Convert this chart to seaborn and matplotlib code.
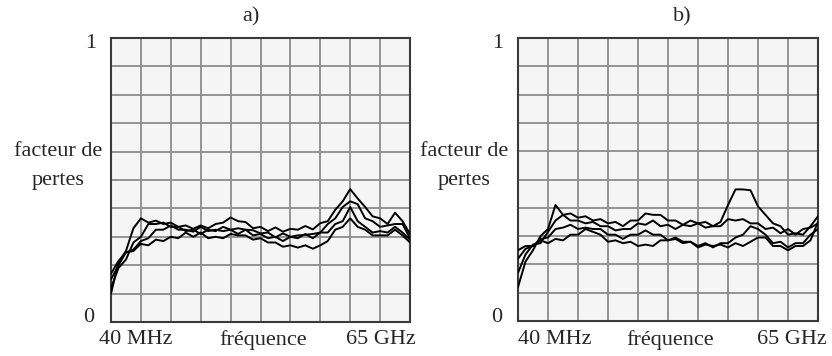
import numpy as np
import pandas as pd
import matplotlib
matplotlib.use("Agg")
import matplotlib.pyplot as plt
import seaborn as sns

# ---------------- data (grid units: x 0..10 divisions, y 0..1) ----------------
freq_steps = [0, 0.25, 0.5, 0.75, 1.0, 1.25, 1.5, 1.75, 2.0, 2.25, 2.5, 2.75, 3.0,
              3.25, 3.5, 3.75, 4.0, 4.25, 4.5, 4.75, 5.0, 5.25, 5.5, 5.75, 6.0,
              6.25, 6.5, 6.75, 7.0, 7.25, 7.5, 7.75, 8.0, 8.25, 8.5, 8.75, 9.0,
              9.25, 9.5, 9.75, 10.0]

a_curve1 = [0.10, 0.21, 0.25, 0.33, 0.365, 0.35, 0.357, 0.345, 0.35, 0.335, 0.34,
            0.328, 0.34, 0.33, 0.345, 0.35, 0.368, 0.355, 0.352, 0.33, 0.335, 0.32,
            0.333, 0.318, 0.328, 0.325, 0.338, 0.326, 0.348, 0.355, 0.395, 0.425,
            0.468, 0.435, 0.405, 0.372, 0.365, 0.345, 0.385, 0.355, 0.31]
a_curve2 = [0.12, 0.19, 0.22, 0.28, 0.30, 0.345, 0.345, 0.35, 0.335, 0.335, 0.32,
            0.325, 0.31, 0.325, 0.32, 0.335, 0.325, 0.33, 0.325, 0.323, 0.312, 0.315,
            0.298, 0.312, 0.30, 0.305, 0.307, 0.31, 0.315, 0.345, 0.365, 0.405, 0.425,
            0.415, 0.365, 0.355, 0.335, 0.34, 0.345, 0.345, 0.295]
a_curve3 = [0.15, 0.20, 0.245, 0.255, 0.285, 0.295, 0.325, 0.325, 0.34, 0.325, 0.325,
            0.318, 0.335, 0.32, 0.325, 0.32, 0.325, 0.31, 0.325, 0.305, 0.31, 0.295,
            0.30, 0.285, 0.30, 0.295, 0.31, 0.295, 0.315, 0.315, 0.345, 0.355, 0.405,
            0.355, 0.335, 0.315, 0.32, 0.315, 0.335, 0.315, 0.29]
a_curve4 = [0.17, 0.215, 0.245, 0.25, 0.275, 0.27, 0.29, 0.285, 0.30, 0.295, 0.315,
            0.30, 0.315, 0.295, 0.30, 0.295, 0.31, 0.305, 0.305, 0.29, 0.295, 0.28,
            0.28, 0.265, 0.27, 0.262, 0.27, 0.258, 0.27, 0.285, 0.325, 0.335, 0.365,
            0.335, 0.325, 0.305, 0.305, 0.305, 0.325, 0.305, 0.28]

b_curve1 = [0.12, 0.21, 0.25, 0.30, 0.325, 0.41, 0.375, 0.38, 0.365, 0.37, 0.355,
            0.36, 0.345, 0.35, 0.335, 0.355, 0.355, 0.38, 0.375, 0.375, 0.355, 0.355,
            0.34, 0.355, 0.345, 0.35, 0.335, 0.35, 0.41, 0.465, 0.465, 0.462, 0.405,
            0.375, 0.345, 0.335, 0.305, 0.31, 0.305, 0.335, 0.37]
b_curve2 = [0.17, 0.235, 0.27, 0.275, 0.315, 0.355, 0.375, 0.355, 0.355, 0.345, 0.35,
            0.335, 0.335, 0.32, 0.325, 0.325, 0.345, 0.34, 0.355, 0.335, 0.34, 0.325,
            0.34, 0.335, 0.345, 0.33, 0.335, 0.335, 0.36, 0.355, 0.36, 0.345, 0.345,
            0.325, 0.33, 0.31, 0.325, 0.305, 0.325, 0.33, 0.345]
b_curve3 = [0.22, 0.255, 0.265, 0.29, 0.295, 0.325, 0.33, 0.34, 0.325, 0.33, 0.325,
            0.325, 0.305, 0.305, 0.29, 0.305, 0.305, 0.32, 0.305, 0.305, 0.285, 0.29,
            0.275, 0.28, 0.265, 0.275, 0.26, 0.275, 0.275, 0.295, 0.305, 0.335, 0.325,
            0.305, 0.275, 0.28, 0.26, 0.275, 0.275, 0.305, 0.325]
b_curve4 = [0.25, 0.265, 0.265, 0.285, 0.275, 0.29, 0.285, 0.305, 0.305, 0.325, 0.315,
            0.305, 0.28, 0.285, 0.275, 0.28, 0.265, 0.27, 0.265, 0.285, 0.285, 0.295,
            0.28, 0.28, 0.26, 0.27, 0.265, 0.27, 0.26, 0.275, 0.265, 0.28, 0.295,
            0.295, 0.265, 0.265, 0.25, 0.265, 0.265, 0.285, 0.35]

panel_titles = ["a)", "b)"]
y_label_lines = ["facteur de", "pertes"]
y_tick_labels = ["0", "1"]
x_labels = ["40 MHz", "fréquence", "65 GHz"]

# ---------------- styling ----------------
sns.set_theme(style="white")
plt.rcParams["font.family"] = ["Liberation Serif", "DejaVu Serif"]

W, H = 832, 356
fig = plt.figure(figsize=(W / 100, H / 100), dpi=100)


def fx(px):
    return px / W


def fy(py):
    return 1 - py / H


panels = [
    dict(box=(111, 410, 38, 322), curves=[a_curve1, a_curve2, a_curve3, a_curve4],
         title=(251, 17), one=(91, 44), zero=(89, 318), ylab=(58, 152, 180),
         xl=(136, 263, 381)),
    dict(box=(518, 818, 38, 321), curves=[b_curve1, b_curve2, b_curve3, b_curve4],
         title=(682, 17), one=(498, 44), zero=(497, 318), ylab=(464, 152, 180),
         xl=(555, 670, 792)),
]

FS = 16
for i, p in enumerate(panels):
    l, r, t, b = p["box"]
    ax = fig.add_axes([fx(l), fy(b), fx(r) - fx(l), fy(t) - fy(b)])
    rows = []
    for k, c in enumerate(p["curves"]):
        for xv, yv in zip(freq_steps, c):
            rows.append(dict(x=xv, y=yv, curve=k))
    df = pd.DataFrame(rows)
    sns.lineplot(data=df, x="x", y="y", units="curve", estimator=None,
                 color="black", lw=1.4, ax=ax, zorder=3)
    ax.set_xlim(0, 10)
    ax.set_ylim(0, 1)
    ax.set_xticks(np.arange(0, 11))
    ax.set_yticks(np.linspace(0, 1, 11))
    ax.set_xticklabels([])
    ax.set_yticklabels([])
    ax.tick_params(length=0)
    ax.set_xlabel("")
    ax.set_ylabel("")
    ax.set_facecolor("#f5f5f5")
    ax.grid(True, color="#8c8c8c", lw=1.3)
    ax.set_axisbelow(True)
    for s in ax.spines.values():
        s.set_color("#3a3a3a")
        s.set_linewidth(1.5)

    fig.text(fx(p["title"][0]), fy(p["title"][1]), panel_titles[i],
             ha="center", va="center", fontsize=FS)
    fig.text(fx(p["one"][0]), fy(p["one"][1]), y_tick_labels[1],
             ha="center", va="center", fontsize=FS)
    fig.text(fx(p["zero"][0]), fy(p["zero"][1]), y_tick_labels[0],
             ha="center", va="center", fontsize=FS)
    fig.text(fx(p["ylab"][0]), fy(p["ylab"][1]), y_label_lines[0],
             ha="center", va="center", fontsize=FS)
    fig.text(fx(p["ylab"][0]), fy(p["ylab"][2]), y_label_lines[1],
             ha="center", va="center", fontsize=FS)
    for txt, xp in zip(x_labels, p["xl"]):
        fig.text(fx(xp), fy(340), txt, ha="center", va="center", fontsize=FS)

fig.savefig("out.png", dpi=100, facecolor="white")
